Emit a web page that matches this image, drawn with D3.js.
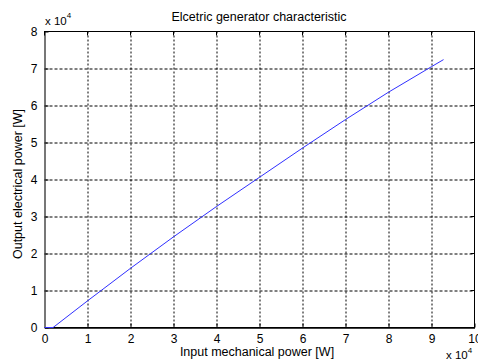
<!DOCTYPE html>
<html>
<head>
<meta charset="utf-8">
<script src="https://cdn.jsdelivr.net/npm/d3@7"></script>
<style>
  body { margin: 0; background: #fff; }
  svg text { font-family: "Liberation Sans", Arial, sans-serif; fill: #000; }
</style>
</head>
<body>
<div class="figure"></div>
<script>
// input mechanical power (x 10^4 W) -> output electrical power (x 10^4 W)
var inputPower  = [0, 0.2, 1, 2, 3, 4, 5, 6, 7, 8, 9, 9.28]
var outputPower = [0, 0, 0.72, 1.6, 2.45, 3.27, 4.06, 4.85, 5.62, 6.36, 7.05, 7.24]

var xTicks = [0, 1, 2, 3, 4, 5, 6, 7, 8, 9, 10]
var yTicks = [0, 1, 2, 3, 4, 5, 6, 7, 8]

var dataset = inputPower.map(function(d, i) { return {x: d, y: outputPower[i]} })

var dim = { w: 478, h: 363 }
var margin = { top: 31.5, bottom: 35.5, left: 44.5, right: 3.5 }

var w = dim.w - margin.left - margin.right,
    h = dim.h - margin.top - margin.bottom

var svg = d3.select("div.figure")
    .append("svg")
    .attr("width", dim.w)
    .attr("height", dim.h)

var g = svg.append("g")
    .attr("transform", "translate(" + margin.left + "," + margin.top + ")")

var xScale = d3.scaleLinear().domain([0, 10]).range([0, w])
var yScale = d3.scaleLinear().domain([0, 8]).range([h, 0])

// grid
g.append("g").selectAll("line")
    .data(xTicks.slice(1, -1)).enter()
    .append("line")
    .attr("x1", function(d) { return Math.round(xScale(d)) + 0.5 })
    .attr("x2", function(d) { return Math.round(xScale(d)) + 0.5 })
    .attr("y1", 0).attr("y2", h)
    .attr("stroke", "#000").attr("stroke-dasharray", "2,2")

g.append("g").selectAll("line")
    .data(yTicks.slice(1, -1)).enter()
    .append("line")
    .attr("y1", function(d) { return Math.round(yScale(d)) + 0.5 })
    .attr("y2", function(d) { return Math.round(yScale(d)) + 0.5 })
    .attr("x1", 0).attr("x2", w)
    .attr("stroke", "#000").attr("stroke-dasharray", "3,2")

// frame
g.append("rect")
    .attr("width", w).attr("height", h)
    .attr("fill", "none").attr("stroke", "#000")

// left and bottom axes (with inward ticks)
var xAxis = d3.axisBottom(xScale).tickValues(xTicks).tickSizeInner(-4).tickSizeOuter(0).tickPadding(7)
var yAxis = d3.axisLeft(yScale).tickValues(yTicks).tickSizeInner(-4).tickSizeOuter(0).tickPadding(7)

var xa = g.append("g")
    .attr("transform", "translate(0," + h + ")")
    .style("font-size", "12px")
    .call(xAxis)
var ya = g.append("g")
    .style("font-size", "12px")
    .call(yAxis)
xa.selectAll("path").attr("stroke", "#000").attr("stroke-width", 1.5)
ya.selectAll("path").attr("stroke", "#777").attr("stroke-width", 2)
xa.selectAll("text").attr("font-family", "Liberation Sans, Arial, sans-serif")
ya.selectAll("text").attr("font-family", "Liberation Sans, Arial, sans-serif")

// top/right ticks
g.append("g").selectAll("line").data(xTicks).enter().append("line")
    .attr("x1", function(d) { return xScale(d) }).attr("x2", function(d) { return xScale(d) })
    .attr("y1", 0).attr("y2", 4).attr("stroke", "#000")
g.append("g").selectAll("line").data(yTicks).enter().append("line")
    .attr("y1", function(d) { return yScale(d) }).attr("y2", function(d) { return yScale(d) })
    .attr("x1", w).attr("x2", w - 4).attr("stroke", "#000")

// characteristic curve
var line = d3.line()
    .x(function(d) { return xScale(d.x) })
    .y(function(d) { return yScale(d.y) })

g.append("path")
    .datum(dataset)
    .attr("d", line)
    .attr("fill", "none")
    .attr("stroke", "#3030ff")
    .attr("stroke-width", 1)

// labels
svg.append("text")
    .attr("x", 259).attr("y", 21)
    .attr("text-anchor", "middle")
    .style("font-size", "12.5px")
    .text("Elcetric generator characteristic")

svg.append("text")
    .attr("x", 257).attr("y", 356)
    .attr("text-anchor", "middle")
    .style("font-size", "12.5px")
    .text("Input mechanical power [W]")

svg.append("text")
    .attr("transform", "translate(22,184) rotate(-90)")
    .attr("text-anchor", "middle")
    .style("font-size", "12.5px")
    .text("Output electrical power [W]")

// exponent labels
var expTop = svg.append("text").attr("x", 45).attr("y", 25).style("font-size", "11.5px")
expTop.append("tspan").text("x 10")
expTop.append("tspan").attr("dy", -7).style("font-size", "8px").text("4")

var expBot = svg.append("text").attr("x", 446).attr("y", 359).style("font-size", "11.5px")
expBot.append("tspan").text("x 10")
expBot.append("tspan").attr("dy", -6).style("font-size", "8px").text("4")
</script>
</body>
</html>
